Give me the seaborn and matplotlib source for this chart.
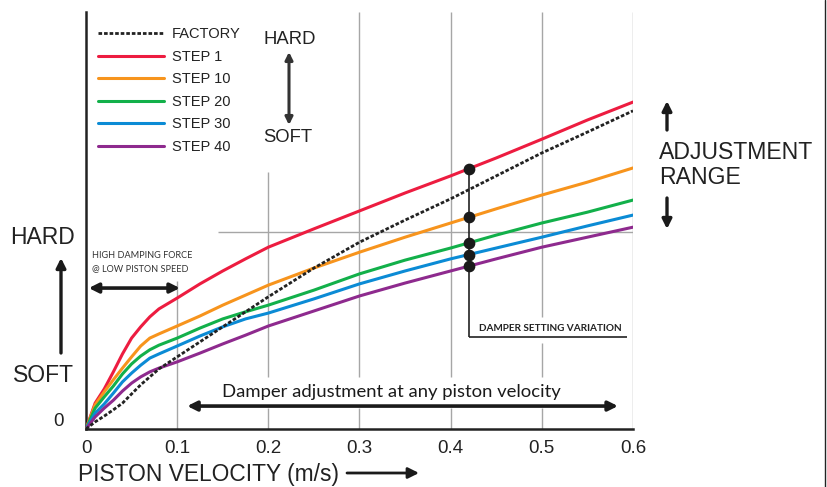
import numpy as np
import pandas as pd
import seaborn as sns
import matplotlib.pyplot as plt
from matplotlib.lines import Line2D

# Damping force curves (arbitrary force units, 0-100 scale)
velocity = [0, 0.01, 0.02, 0.03, 0.04, 0.05, 0.06, 0.07, 0.08, 0.1, 0.125, 0.15,
            0.175, 0.2, 0.25, 0.3, 0.35, 0.4, 0.45, 0.5, 0.55, 0.6]
factory = [0, 1.7, 3.1, 4.6, 6.2, 8.4, 10.6, 12.5, 14.4, 17.3, 20.9, 24.5,
           28.1, 31.7, 38.6, 44.8, 50.1, 55.2, 60.7, 66.2, 71.2, 76.3]
step_1 = [0, 6.2, 9.6, 13.7, 18.0, 21.8, 24.5, 26.9, 28.8, 31.4, 34.8, 37.9,
          40.8, 43.6, 48.0, 52.3, 56.6, 60.7, 65.0, 69.5, 74.1, 78.4]
step_10 = [0, 5.8, 8.9, 11.8, 14.6, 17.3, 19.9, 21.8, 22.8, 24.7, 27.1, 29.7,
           32.1, 34.5, 38.6, 42.4, 46.0, 49.4, 52.8, 56.1, 59.2, 62.6]
step_20 = [0, 5.0, 7.7, 10.3, 13.2, 15.6, 17.5, 19.0, 20.1, 21.8, 24.2, 26.4,
           28.1, 29.7, 33.3, 37.2, 40.5, 43.4, 46.5, 49.4, 52.0, 54.9]
step_30 = [0, 3.8, 6.0, 8.6, 11.3, 13.4, 15.3, 17.0, 18.0, 19.9, 22.3, 24.5,
           26.4, 27.8, 31.2, 34.8, 37.9, 40.8, 43.4, 46.0, 48.7, 51.3]
step_40 = [0, 2.9, 5.0, 6.9, 9.1, 11.0, 12.5, 13.7, 14.6, 16.1, 18.2, 20.4,
           22.5, 24.7, 28.3, 31.9, 35.0, 37.9, 40.8, 43.6, 46.0, 48.4]

step_names = ["STEP 1", "STEP 10", "STEP 20", "STEP 30", "STEP 40"]
step_colors = ["#ED1C40", "#F7941D", "#12B04A", "#0B8BD5", "#8E2A8E"]
setting_velocity = 0.42
x_ticks = [0, 0.1, 0.2, 0.3, 0.4, 0.5, 0.6]
x_tick_labels = ["0", "0.1", "0.2", "0.3", "0.4", "0.5", "0.6"]

steps = [step_1, step_10, step_20, step_30, step_40]
df = pd.DataFrame({
    "velocity": velocity * 5,
    "force": sum(steps, []),
    "setting": np.repeat(step_names, len(velocity)),
})

sns.set_style("white")
plt.rcParams["font.family"] = ["Liberation Sans", "DejaVu Sans"]
narrow = ["Liberation Sans Narrow", "Liberation Sans", "DejaVu Sans"]
humanist = ["Lato", "DejaVu Sans"]

W, H = 827, 487
fig = plt.figure(figsize=(W / 100, H / 100), dpi=100)
ax = fig.add_axes([86 / W, 1 - 429 / H, 547 / W, 417 / H])

def fx(px):
    return px / W

def fy(py):
    return 1 - py / H

# grid segments (broken around annotations)
grid_kw = dict(color="#a6a6a6", lw=1, zorder=0)
ax.vlines(0.1, 0, 35.5, **grid_kw)
ax.vlines(0.2, 12.5, 61.6, **grid_kw)
ax.vlines([0.2, 0.3, 0.4, 0.5], 0, 5.0, **grid_kw)
ax.vlines([0.3, 0.4], 12.5, 100, **grid_kw)
ax.vlines(0.5, 12.5, 20.6, **grid_kw)
ax.vlines(0.5, 26.9, 100, **grid_kw)
ax.vlines(0.6, 0, 100, **grid_kw)
ax.hlines(47.2, 0.145, 0.6, **grid_kw)

sns.lineplot(x=velocity, y=factory, ax=ax, color="#222222", lw=2,
             linestyle=(0, (1.3, 0.7)), label="FACTORY", zorder=4)
sns.lineplot(data=df, x="velocity", y="force", hue="setting",
             palette=step_colors, hue_order=step_names, lw=2.2, ax=ax, zorder=3)

# damper setting variation markers
dots = [np.interp(setting_velocity, velocity, s) for s in steps]
ax.vlines(setting_velocity, 22.1, max(dots), color="#222222", lw=1.2, zorder=2)
ax.hlines(22.1, setting_velocity, 0.593, color="#222222", lw=1.2, zorder=2)
ax.scatter([setting_velocity] * len(dots), dots, s=55, color="#1a1a1a", zorder=5)
ax.text(0.431, 24.0, "DAMPER SETTING VARIATION", family=humanist, fontsize=7.2,
        fontweight="bold", color="#222222", va="center", ha="left")

ax.set_xlim(0, 0.6)
ax.set_ylim(0, 100)
ax.set_xticks(x_ticks)
ax.set_xticklabels(x_tick_labels, family=narrow, fontsize=13.5, color="#222222")
ax.set_yticks([])
ax.tick_params(axis="x", length=0, pad=8)
ax.set_xlabel("")
ax.set_ylabel("")
for side in ["top", "right"]:
    ax.spines[side].set_visible(False)
for side in ["left", "bottom"]:
    ax.spines[side].set_color("#222222")
    ax.spines[side].set_linewidth(1.8)

leg = ax.legend(loc="upper left", bbox_to_anchor=(0.022, 0.963), frameon=False,
                fontsize=10.5, handlelength=4.5, handletextpad=0.55,
                labelspacing=0.58, borderpad=0, borderaxespad=0)
for t in leg.get_texts():
    t.set_color("#222222")

arrow = dict(arrowstyle="<|-|>", color="#1a1a1a", lw=2.6, mutation_scale=14,
             shrinkA=0, shrinkB=0)
single = dict(arrowstyle="-|>", color="#1a1a1a", lw=2.4, mutation_scale=14,
              shrinkA=0, shrinkB=0)

# high damping force annotation
ax.annotate("", xy=(0.003, 33.8), xytext=(0.103, 33.8), arrowprops=arrow)
ax.text(0.0066, 41.5, "HIGH DAMPING FORCE", family=humanist, fontsize=6.6,
        color="#333333", va="center")
ax.text(0.0066, 38.4, "@ LOW PISTON SPEED", family=humanist, fontsize=6.6,
        color="#333333", va="center")

# damper adjustment annotation
ax.annotate("", xy=(0.111, 5.5), xytext=(0.5835, 5.5), arrowprops=arrow)
ax.text(0.335, 8.9, "Damper adjustment at any piston velocity", family=humanist,
        fontsize=13.3, color="#1a1a1a", ha="center", va="center")

# left HARD / SOFT scale
fig.text(fx(43), fy(237), "HARD", fontsize=16.5, color="#222222", ha="center", va="center")
fig.text(fx(43), fy(376), "SOFT", fontsize=16.5, color="#222222", ha="center", va="center")
ax.annotate("", xy=(fx(61), fy(258)), xytext=(fx(61), fy(353)),
            xycoords="figure fraction", arrowprops=single, annotation_clip=False)
fig.text(fx(59), fy(422), "0", family=narrow, fontsize=13.5, color="#222222",
         ha="center", va="center")

# top HARD / SOFT scale
fig.text(fx(290), fy(40), "HARD", fontsize=13.3, color="#222222", ha="center", va="center")
fig.text(fx(288), fy(138), "SOFT", fontsize=13.3, color="#222222", ha="center", va="center")
ax.annotate("", xy=(fx(289), fy(52)), xytext=(fx(289), fy(125)),
            xycoords="figure fraction", annotation_clip=False,
            arrowprops=dict(arrowstyle="<|-|>", color="#333333", lw=2.2,
                            mutation_scale=11, shrinkA=0, shrinkB=0))

# right adjustment range
ax.annotate("", xy=(fx(667), fy(101)), xytext=(fx(667), fy(130)),
            xycoords="figure fraction", arrowprops=single, annotation_clip=False)
ax.annotate("", xy=(fx(667), fy(229)), xytext=(fx(667), fy(198)),
            xycoords="figure fraction", arrowprops=single, annotation_clip=False)
fig.text(fx(659), fy(153), "ADJUSTMENT", fontsize=16.6, color="#222222", va="center")
fig.text(fx(659), fy(177), "RANGE", fontsize=16.6, color="#222222", va="center")

# x axis title with arrow
fig.text(fx(78), fy(474), "PISTON VELOCITY (m/s)", fontsize=16.4, color="#222222", va="center")
ax.annotate("", xy=(fx(419), fy(473)), xytext=(fx(347), fy(473)),
            xycoords="figure fraction", annotation_clip=False,
            arrowprops=dict(arrowstyle="-|>", color="#1a1a1a", lw=2,
                            mutation_scale=16, shrinkA=0, shrinkB=0))

fig.add_artist(Line2D([fx(825), fx(825)], [0, 1], color="#222222", lw=1))

fig.savefig("out.png", dpi=100)
